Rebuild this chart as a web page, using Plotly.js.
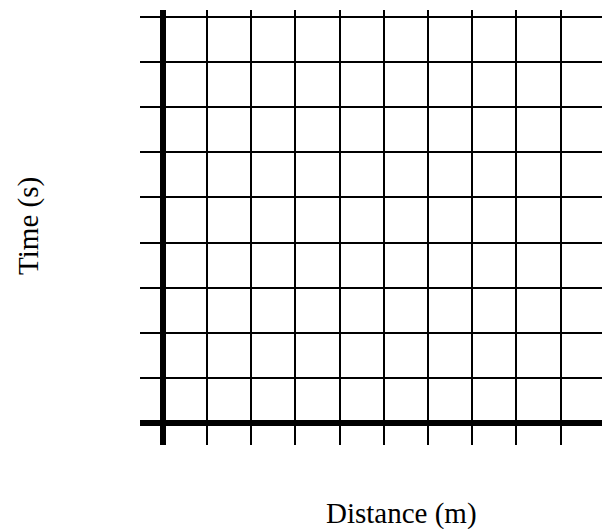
<!DOCTYPE html>
<html>
<head>
<meta charset="utf-8">
<script src="https://cdn.plot.ly/plotly-3.0.1.min.js"></script>
<style>html,body{margin:0;padding:0;background:#fff;}#chart{width:602px;height:529px;}</style>
</head>
<body>
<div id="chart"></div>
<script>
// Blank graph grid: grid line positions (axis units), axis titles
const xGridValues = [0, 1, 2, 3, 4, 5, 6, 7, 8, 9];
const yGridValues = [0, 1, 2, 3, 4, 5, 6, 7, 8, 9];
const xTitle = "Distance (m)";
const yTitle = "Time (s)";

const serif = {family: "Liberation Serif, Times New Roman, serif", size: 29, color: "#000"};

const trace = {x: [], y: [], type: "scatter", mode: "markers", showlegend: false, hoverinfo: "skip"};

const layout = {
  width: 602, height: 529,
  margin: {l: 140, r: 0, t: 10, b: 84},
  paper_bgcolor: "#fff", plot_bgcolor: "#fff",
  showlegend: false,
  xaxis: {
    range: [-0.516, 9.939], tickvals: xGridValues, showticklabels: false, ticks: "",
    showgrid: true, gridcolor: "#000", gridwidth: 2,
    zeroline: true, zerolinecolor: "#000", zerolinewidth: 6,
    showline: false, fixedrange: true
  },
  yaxis: {
    range: [-0.488, 9.157], tickvals: yGridValues, showticklabels: false, ticks: "",
    showgrid: true, gridcolor: "#000", gridwidth: 2,
    zeroline: true, zerolinecolor: "#000", zerolinewidth: 6,
    showline: false, fixedrange: true
  },
  annotations: [
    {text: yTitle, xref: "paper", yref: "paper", x: -0.243, y: 0.503, textangle: -90,
     showarrow: false, xanchor: "center", yanchor: "middle", font: serif},
    {text: xTitle, xref: "paper", yref: "paper", x: 0.566, y: -0.158,
     showarrow: false, xanchor: "center", yanchor: "middle", font: serif}
  ]
};

Plotly.newPlot("chart", [trace], layout, {displayModeBar: false, staticPlot: true});
</script>
</body>
</html>
